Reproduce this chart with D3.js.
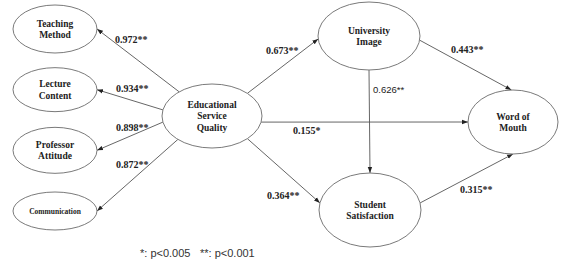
<!DOCTYPE html>
<html>
<head>
<meta charset="utf-8">
<script src="https://cdn.jsdelivr.net/npm/d3@7"></script>
<style>
  body { margin: 0; background: #fff; }
  svg { display: block; }
</style>
</head>
<body>
<div id="chart"></div>
<script>
// ---- data ----
const indicators = ['Teaching Method', 'Lecture Content', 'Professor Attitude', 'Communication']
const loadings = [0.972, 0.934, 0.898, 0.872]
const loadingSig = ['**', '**', '**', '**']

const constructs = ['Educational Service Quality', 'University Image', 'Student Satisfaction', 'Word of Mouth']
const pathFrom = ['Educational Service Quality', 'Educational Service Quality', 'Educational Service Quality', 'University Image', 'University Image', 'Student Satisfaction']
const pathTo = ['University Image', 'Student Satisfaction', 'Word of Mouth', 'Student Satisfaction', 'Word of Mouth', 'Word of Mouth']
const pathCoef = [0.673, 0.364, 0.155, 0.626, 0.443, 0.315]
const pathSig = ['**', '**', '*', '**', '**', '**']

const sigMarks = ['*', '**']
const sigLevels = ['0.005', '0.001']

// ---- layout ----
const width = 563
const height = 263
const serif = '"Liberation Serif", "Times New Roman", serif'
const sans = '"Liberation Sans", Arial, sans-serif'

const lineC = '#555'
const ellipseC = '#7a7a7a'
const textC = '#222'

const yInd = d3.scalePoint().domain(indicators).range([29, 211])
const indBox = { cx: 55, rx: 42, ry: [24, 22, 23, 19] }

const conBox = d3.scaleOrdinal()
  .domain(constructs)
  .range([
    { cx: 212, cy: 116, rx: 50, ry: 32, lines: ['Educational', 'Service', 'Quality'] },
    { cx: 369, cy: 36, rx: 51, ry: 34, lines: ['University', 'Image'] },
    { cx: 370, cy: 210, rx: 51, ry: 37, lines: ['Student', 'Satisfaction'] },
    { cx: 513, cy: 122, rx: 45, ry: 32, lines: ['Word of', 'Mouth'] }
  ])

// where each arrow leaves / enters the ellipse (parametric angle, degrees)
const indStartAngle = [-131, 191, 169, 133]
const indLabelPos = [[115, 43], [116, 92], [116, 131], [116, 168]]
const pathAngles = [[-45, 175], [45, 191], [11, 180], [90, -90], [7, -92], [-11, 90]]
const pathLabelPos = [[266, 54], [267, 199], [293, 134], [373, 93], [451, 53], [460, 193]]

function onEllipse (b, deg) {
  const a = deg * Math.PI / 180
  return [b.cx + b.rx * Math.cos(a), b.cy + b.ry * Math.sin(a)]
}

const svg = d3.select('#chart').append('svg')
  .attr('width', width)
  .attr('height', height)

svg.append('rect').attr('width', width).attr('height', height).attr('fill', '#fff')

const defs = svg.append('defs')
defs.append('marker')
  .attr('id', 'arrow')
  .attr('markerUnits', 'userSpaceOnUse')
  .attr('viewBox', '0 -3 6 6')
  .attr('refX', 6)
  .attr('refY', 0)
  .attr('markerWidth', 6)
  .attr('markerHeight', 6)
  .attr('orient', 'auto')
  .append('path')
  .attr('d', 'M0,-2.2L6,0L0,2.2Z')
  .attr('fill', '#222')

const line = d3.line()
const linksGroup = svg.append('g').attr('class', 'links')
const nodesGroup = svg.append('g').attr('class', 'nodes')
const labelsGroup = svg.append('g').attr('class', 'labels')

const esq = conBox(constructs[0])

// ---- measurement arrows ----
indicators.forEach((name, i) => {
  const b = { cx: indBox.cx, cy: yInd(name), rx: indBox.rx, ry: indBox.ry[i] }
  linksGroup.append('path')
    .attr('d', line([onEllipse(esq, indStartAngle[i]), onEllipse(b, 0)]))
    .attr('fill', 'none')
    .attr('stroke', lineC)
    .attr('stroke-width', 0.9)
    .attr('marker-end', 'url(#arrow)')

  labelsGroup.append('text')
    .attr('x', indLabelPos[i][0])
    .attr('y', indLabelPos[i][1])
    .style('font-family', serif)
    .style('font-weight', 'bold')
    .style('font-size', '10px')
    .style('fill', textC)
    .text(loadings[i].toFixed(3) + loadingSig[i])
})

// ---- structural arrows ----
pathFrom.forEach((from, i) => {
  const a = conBox(from)
  const b = conBox(pathTo[i])
  linksGroup.append('path')
    .attr('d', line([onEllipse(a, pathAngles[i][0]), onEllipse(b, pathAngles[i][1])]))
    .attr('fill', 'none')
    .attr('stroke', lineC)
    .attr('stroke-width', 0.9)
    .attr('marker-end', 'url(#arrow)')

  // the UI -> SS coefficient is set in a plain sans face in the original
  const plain = from === 'University Image' && pathTo[i] === 'Student Satisfaction'
  labelsGroup.append('text')
    .attr('x', pathLabelPos[i][0])
    .attr('y', pathLabelPos[i][1])
    .style('font-family', plain ? sans : serif)
    .style('font-weight', plain ? 'normal' : 'bold')
    .style('font-size', plain ? '9.5px' : '10px')
    .style('fill', textC)
    .text(pathCoef[i].toFixed(3) + pathSig[i])
})

// ---- ellipses ----
function drawNode (b, lines, size, lh) {
  const g = nodesGroup.append('g')
  g.append('ellipse')
    .attr('cx', b.cx)
    .attr('cy', b.cy)
    .attr('rx', b.rx)
    .attr('ry', b.ry)
    .attr('fill', '#fff')
    .attr('stroke', ellipseC)
    .attr('stroke-width', 1)
  lines.forEach((t, j) => {
    g.append('text')
      .attr('x', b.cx)
      .attr('y', b.cy - (lines.length - 1) * lh / 2 + j * lh + size * 0.35)
      .style('text-anchor', 'middle')
      .style('font-family', serif)
      .style('font-weight', 'bold')
      .style('font-size', size + 'px')
      .style('fill', textC)
      .text(t)
  })
}

indicators.forEach((name, i) => {
  const b = { cx: indBox.cx, cy: yInd(name), rx: indBox.rx, ry: indBox.ry[i] }
  const words = name.split(' ')
  if (words.length > 1) drawNode(b, words, 9.5, 11.5)
  else drawNode(b, words, 7.5, 10)
})

constructs.forEach(name => {
  const b = conBox(name)
  drawNode(b, b.lines, 9.5, 11.5)
})

// ---- significance legend ----
const legendX = d3.scalePoint().domain(sigMarks).range([140, 200])
sigMarks.forEach((m, i) => {
  svg.append('text')
    .attr('x', legendX(m))
    .attr('y', 257)
    .style('font-family', sans)
    .style('font-size', '11px')
    .style('fill', '#333')
    .text(m + ': p<' + sigLevels[i])
})
</script>
</body>
</html>
